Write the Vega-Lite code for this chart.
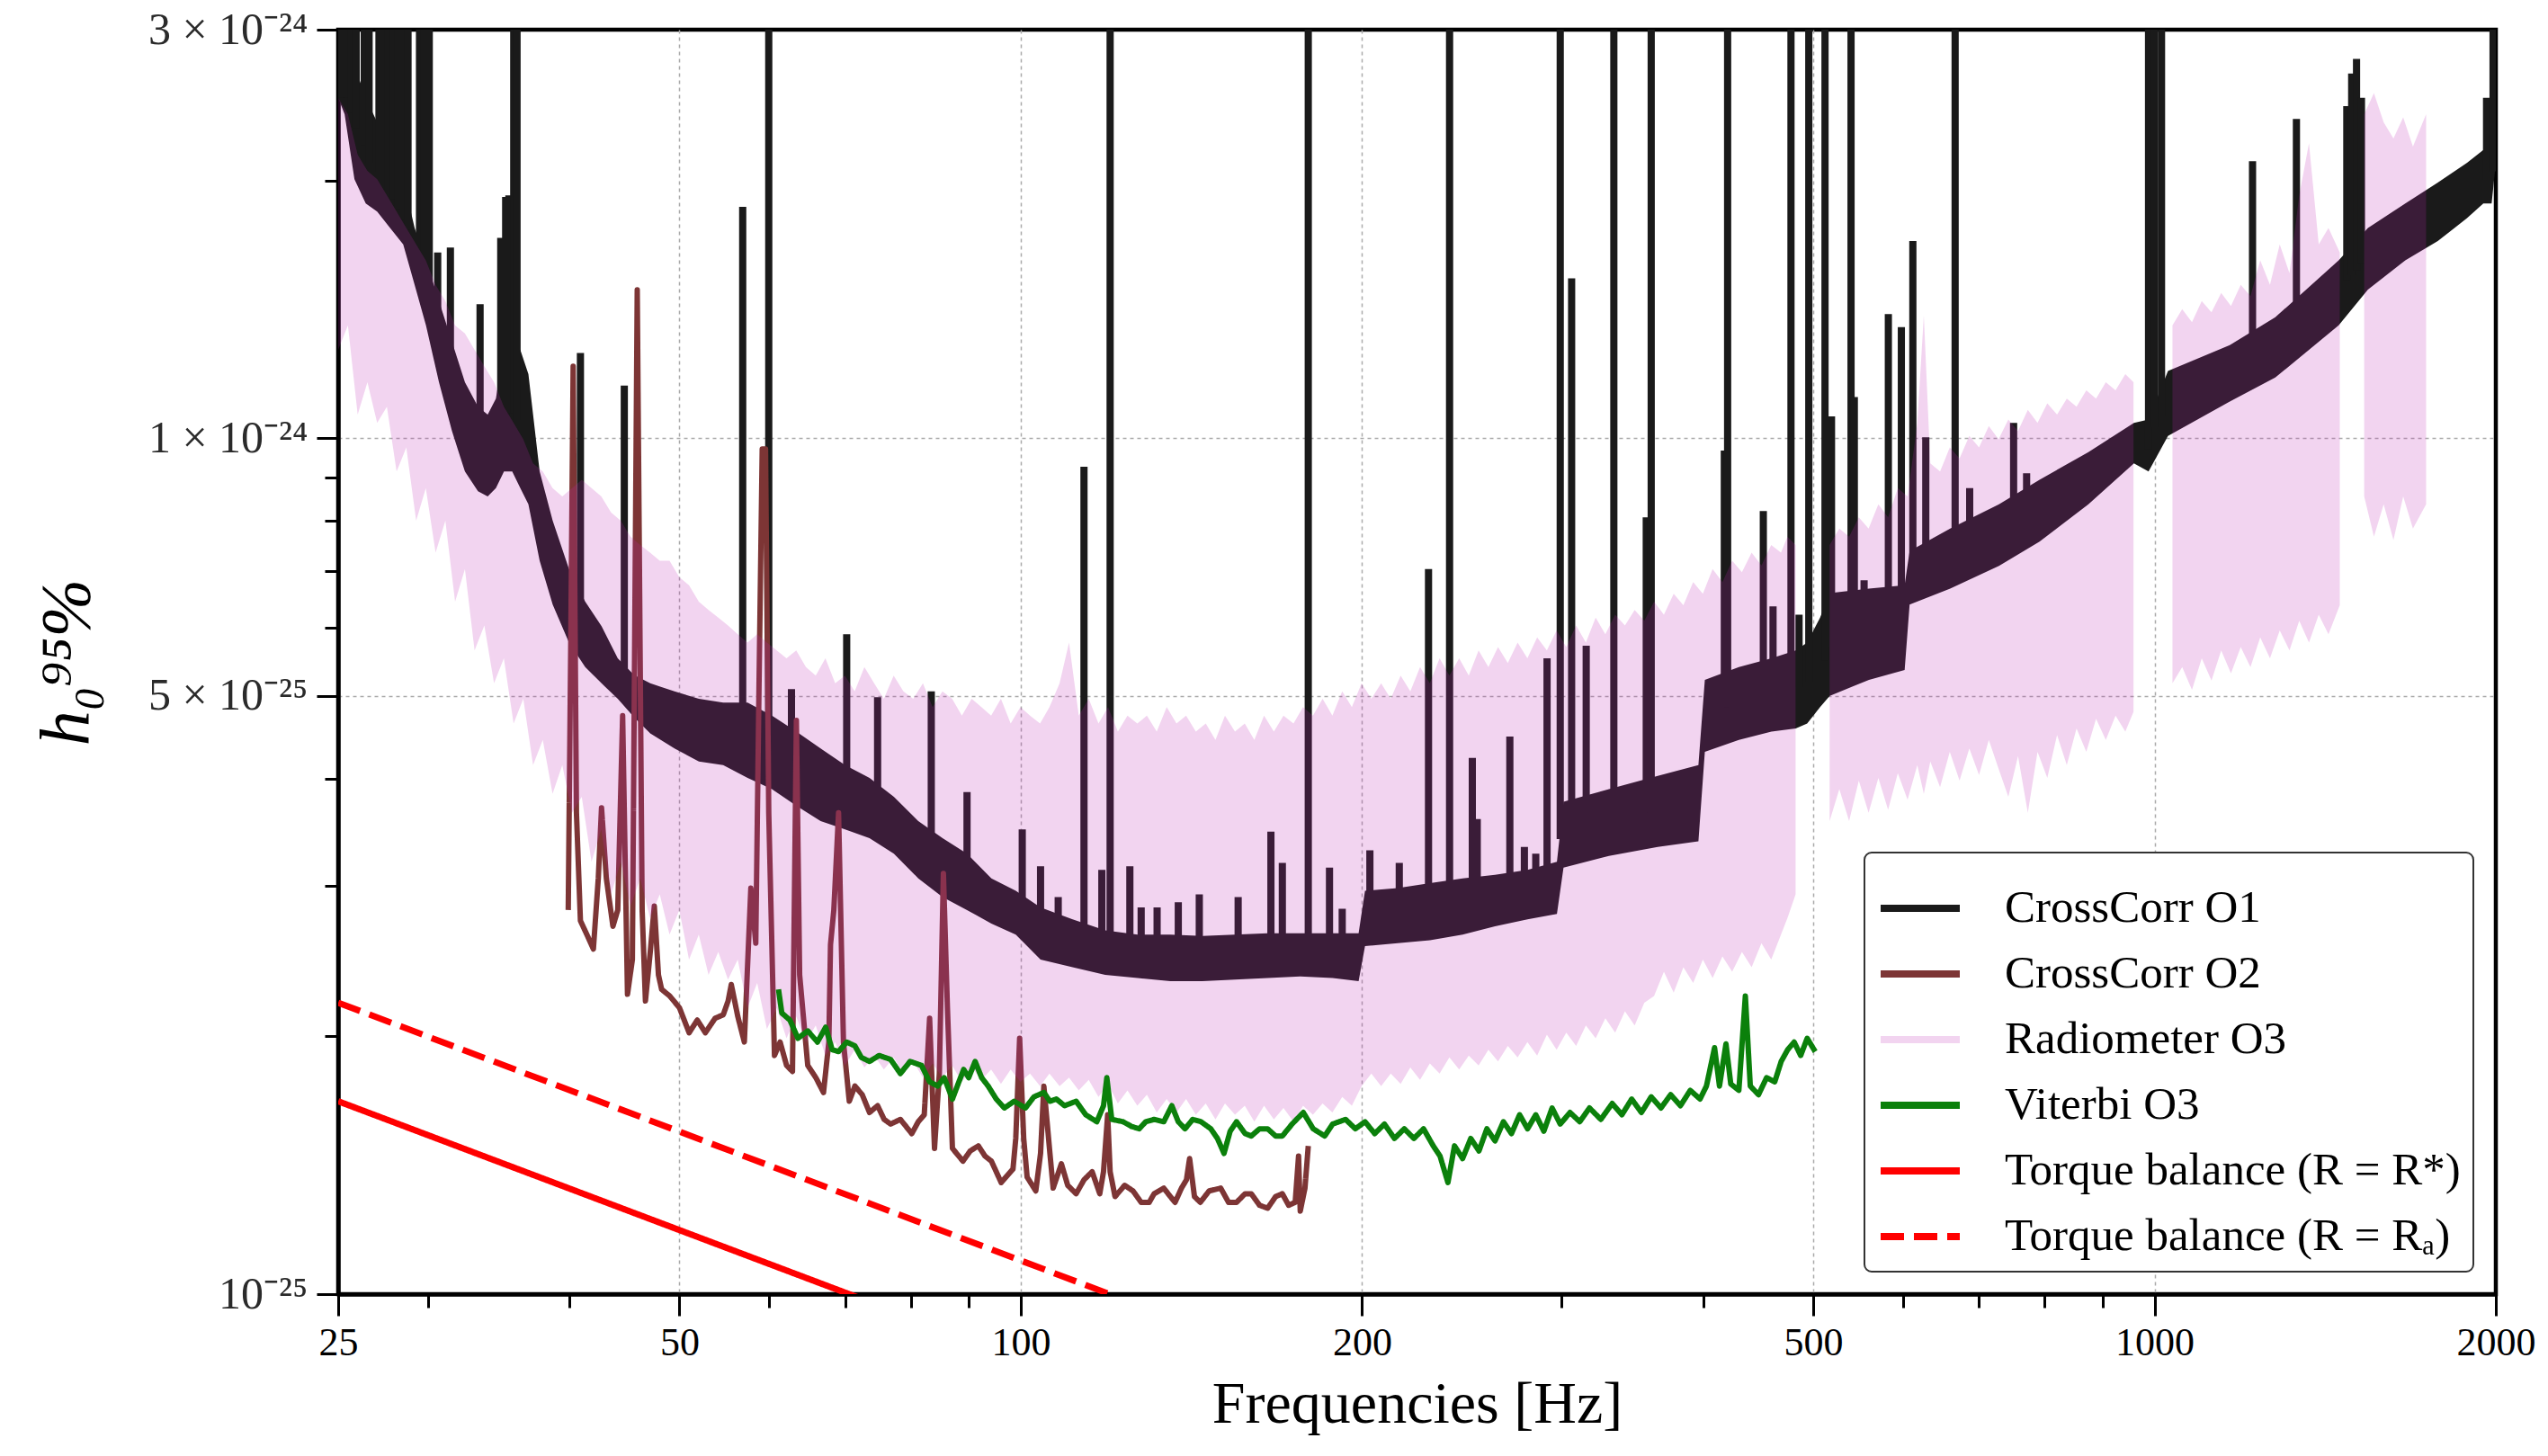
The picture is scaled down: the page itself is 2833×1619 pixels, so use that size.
{
"$schema": "https://vega.github.io/schema/vega-lite/v6.json",
"width": 2399, "height": 1406,
"autosize": {"type": "none"},
"padding": {"left": 376, "top": 33, "right": 58, "bottom": 180},
"background": "white",
"config": {
  "view": {"stroke": "black", "strokeWidth": 4.5},
  "font": "Liberation Serif",
  "legend": {"offset": 25, "padding": 14, "strokeColor": "#333333", "strokeWidth": 2, "cornerRadius": 8, "fillColor": "white",
    "labelFont": "Liberation Serif", "labelFontSize": 51, "labelColor": "black", "symbolSize": 7744, "symbolStrokeWidth": 8,
    "labelOffset": 46, "rowPadding": 0, "labelLimit": 1000}
},
"datasets": {
"o1band": [
{"series":"CrossCorr O1","f":25,"h":2.497e-24,"h2":3e-24},
{"series":"CrossCorr O1","f":25.33,"h":2.39e-24,"h2":2.91e-24},
{"series":"CrossCorr O1","f":25.84,"h":2.006e-24,"h2":2.725e-24},
{"series":"CrossCorr O1","f":26.44,"h":1.88e-24,"h2":2.497e-24},
{"series":"CrossCorr O1","f":27.06,"h":1.839e-24,"h2":2.338e-24},
{"series":"CrossCorr O1","f":27.78,"h":1.76e-24,"h2":2.19e-24},
{"series":"CrossCorr O1","f":28.53,"h":1.684e-24,"h2":2.006e-24},
{"series":"CrossCorr O1","f":29.2,"h":1.51e-24,"h2":1.76e-24},
{"series":"CrossCorr O1","f":29.88,"h":1.354e-24,"h2":1.613e-24},
{"series":"CrossCorr O1","f":30.68,"h":1.162e-24,"h2":1.446e-24},
{"series":"CrossCorr O1","f":31.5,"h":1.019e-24,"h2":1.296e-24},
{"series":"CrossCorr O1","f":32.34,"h":9.14e-25,"h2":1.162e-24},
{"series":"CrossCorr O1","f":33.21,"h":8.67e-25,"h2":1.088e-24},
{"series":"CrossCorr O1","f":33.87,"h":8.55e-25,"h2":1.065e-24},
{"series":"CrossCorr O1","f":34.44,"h":8.74e-25,"h2":1.112e-24},
{"series":"CrossCorr O1","f":35.01,"h":9.14e-25,"h2":1.268e-24},
{"series":"CrossCorr O1","f":35.6,"h":9.14e-25,"h2":1.296e-24},
{"series":"CrossCorr O1","f":36.19,"h":8.74e-25,"h2":1.268e-24},
{"series":"CrossCorr O1","f":36.79,"h":8.37e-25,"h2":1.188e-24},
{"series":"CrossCorr O1","f":37.64,"h":7.19e-25,"h2":9.14e-25},
{"series":"CrossCorr O1","f":38.65,"h":6.39e-25,"h2":8.01e-25},
{"series":"CrossCorr O1","f":39.95,"h":5.77e-25,"h2":7.03e-25},
{"series":"CrossCorr O1","f":41.29,"h":5.4e-25,"h2":6.44e-25},
{"series":"CrossCorr O1","f":42.68,"h":5.17e-25,"h2":6.03e-25},
{"series":"CrossCorr O1","f":44.11,"h":4.96e-25,"h2":5.53e-25},
{"series":"CrossCorr O1","f":45.59,"h":4.72e-25,"h2":5.29e-25},
{"series":"CrossCorr O1","f":47.12,"h":4.52e-25,"h2":5.17e-25},
{"series":"CrossCorr O1","f":49.5,"h":4.34e-25,"h2":5.06e-25},
{"series":"CrossCorr O1","f":52.01,"h":4.19e-25,"h2":4.96e-25},
{"series":"CrossCorr O1","f":54.64,"h":4.15e-25,"h2":4.91e-25},
{"series":"CrossCorr O1","f":57.42,"h":4.01e-25,"h2":4.91e-25},
{"series":"CrossCorr O1","f":60.33,"h":3.89e-25,"h2":4.74e-25},
{"series":"CrossCorr O1","f":63.4,"h":3.72e-25,"h2":4.54e-25},
{"series":"CrossCorr O1","f":66.6,"h":3.57e-25,"h2":4.34e-25},
{"series":"CrossCorr O1","f":69.99,"h":3.49e-25,"h2":4.15e-25},
{"series":"CrossCorr O1","f":73.55,"h":3.41e-25,"h2":4.01e-25},
{"series":"CrossCorr O1","f":77.28,"h":3.27e-25,"h2":3.81e-25},
{"series":"CrossCorr O1","f":81.21,"h":3.06e-25,"h2":3.57e-25},
{"series":"CrossCorr O1","f":85.32,"h":2.91e-25,"h2":3.41e-25},
{"series":"CrossCorr O1","f":89.66,"h":2.81e-25,"h2":3.27e-25},
{"series":"CrossCorr O1","f":94.21,"h":2.71e-25,"h2":3.06e-25},
{"series":"CrossCorr O1","f":98.99,"h":2.63e-25,"h2":2.96e-25},
{"series":"CrossCorr O1","f":104.1,"h":2.46e-25,"h2":2.83e-25},
{"series":"CrossCorr O1","f":111.1,"h":2.41e-25,"h2":2.74e-25},
{"series":"CrossCorr O1","f":118.7,"h":2.36e-25,"h2":2.66e-25},
{"series":"CrossCorr O1","f":126.8,"h":2.34e-25,"h2":2.63e-25},
{"series":"CrossCorr O1","f":135.5,"h":2.32e-25,"h2":2.63e-25},
{"series":"CrossCorr O1","f":144.6,"h":2.32e-25,"h2":2.62e-25},
{"series":"CrossCorr O1","f":154.5,"h":2.33e-25,"h2":2.63e-25},
{"series":"CrossCorr O1","f":165.1,"h":2.34e-25,"h2":2.64e-25},
{"series":"CrossCorr O1","f":176.4,"h":2.35e-25,"h2":2.64e-25},
{"series":"CrossCorr O1","f":188.4,"h":2.34e-25,"h2":2.64e-25},
{"series":"CrossCorr O1","f":198.6,"h":2.32e-25,"h2":2.64e-25},
{"series":"CrossCorr O1","f":201.2,"h":2.55e-25,"h2":2.96e-25},
{"series":"CrossCorr O1","f":215,"h":2.57e-25,"h2":2.98e-25},
{"series":"CrossCorr O1","f":229.6,"h":2.59e-25,"h2":3.02e-25},
{"series":"CrossCorr O1","f":245.3,"h":2.63e-25,"h2":3.06e-25},
{"series":"CrossCorr O1","f":262,"h":2.69e-25,"h2":3.09e-25},
{"series":"CrossCorr O1","f":279.9,"h":2.74e-25,"h2":3.13e-25},
{"series":"CrossCorr O1","f":297.1,"h":2.78e-25,"h2":3.2e-25},
{"series":"CrossCorr O1","f":301.1,"h":3.15e-25,"h2":3.76e-25},
{"series":"CrossCorr O1","f":330.2,"h":3.25e-25,"h2":3.89e-25},
{"series":"CrossCorr O1","f":364.6,"h":3.33e-25,"h2":4.03e-25},
{"series":"CrossCorr O1","f":396,"h":3.38e-25,"h2":4.15e-25},
{"series":"CrossCorr O1","f":401.2,"h":4.3e-25,"h2":5.22e-25},
{"series":"CrossCorr O1","f":429.9,"h":4.44e-25,"h2":5.4e-25},
{"series":"CrossCorr O1","f":459.3,"h":4.54e-25,"h2":5.53e-25},
{"series":"CrossCorr O1","f":482.6,"h":4.58e-25,"h2":5.65e-25},
{"series":"CrossCorr O1","f":493.9,"h":4.64e-25,"h2":5.77e-25},
{"series":"CrossCorr O1","f":507,"h":4.85e-25,"h2":6.17e-25},
{"series":"CrossCorr O1","f":517.2,"h":5.0e-25,"h2":6.59e-25},
{"series":"CrossCorr O1","f":559.9,"h":5.22e-25,"h2":6.67e-25},
{"series":"CrossCorr O1","f":602,"h":5.36e-25,"h2":6.73e-25},
{"series":"CrossCorr O1","f":608.1,"h":6.39e-25,"h2":7.38e-25},
{"series":"CrossCorr O1","f":660.3,"h":6.67e-25,"h2":7.84e-25},
{"series":"CrossCorr O1","f":729.1,"h":7.09e-25,"h2":8.37e-25},
{"series":"CrossCorr O1","f":791.7,"h":7.57e-25,"h2":8.94e-25},
{"series":"CrossCorr O1","f":874.3,"h":8.37e-25,"h2":9.63e-25},
{"series":"CrossCorr O1","f":959,"h":9.34e-25,"h2":1.042e-24},
{"series":"CrossCorr O1","f":987.9,"h":9.14e-25,"h2":1.051e-24},
{"series":"CrossCorr O1","f":1027.7,"h":1.006e-24,"h2":1.198e-24},
{"series":"CrossCorr O1","f":1165.1,"h":1.103e-24,"h2":1.284e-24},
{"series":"CrossCorr O1","f":1277.9,"h":1.177e-24,"h2":1.384e-24},
{"series":"CrossCorr O1","f":1453.5,"h":1.354e-24,"h2":1.613e-24},
{"series":"CrossCorr O1","f":1542.5,"h":1.491e-24,"h2":1.76e-24},
{"series":"CrossCorr O1","f":1664.1,"h":1.613e-24,"h2":1.88e-24},
{"series":"CrossCorr O1","f":1777.7,"h":1.699e-24,"h2":1.989e-24},
{"series":"CrossCorr O1","f":1886.5,"h":1.807e-24,"h2":2.097e-24},
{"series":"CrossCorr O1","f":1949.8,"h":1.88e-24,"h2":2.171e-24},
{"series":"CrossCorr O1","f":1983,"h":1.88e-24,"h2":2.27e-24},
{"series":"CrossCorr O1","f":2000,"h":2.097e-24,"h2":3e-24}
],
"o1spikes": [
{"series":"CrossCorr O1","f":25.17,"h":3e-24,"h2":2.5e-24},
{"series":"CrossCorr O1","f":25.42,"h":3e-24,"h2":2.5e-24},
{"series":"CrossCorr O1","f":25.67,"h":3e-24,"h2":2.4e-24},
{"series":"CrossCorr O1","f":25.93,"h":3e-24,"h2":2.3e-24},
{"series":"CrossCorr O1","f":26.36,"h":3e-24,"h2":2.2e-24},
{"series":"CrossCorr O1","f":26.62,"h":3e-24,"h2":2.1e-24},
{"series":"CrossCorr O1","f":27.16,"h":3e-24,"h2":2.05e-24},
{"series":"CrossCorr O1","f":27.42,"h":3e-24,"h2":2.0e-24},
{"series":"CrossCorr O1","f":27.69,"h":3e-24,"h2":1.95e-24},
{"series":"CrossCorr O1","f":27.97,"h":3e-24,"h2":1.9e-24},
{"series":"CrossCorr O1","f":28.25,"h":3e-24,"h2":1.85e-24},
{"series":"CrossCorr O1","f":28.53,"h":3e-24,"h2":1.8e-24},
{"series":"CrossCorr O1","f":28.81,"h":3e-24,"h2":1.75e-24},
{"series":"CrossCorr O1","f":29.49,"h":3e-24,"h2":1.6e-24},
{"series":"CrossCorr O1","f":29.78,"h":3e-24,"h2":1.55e-24},
{"series":"CrossCorr O1","f":30.08,"h":3e-24,"h2":1.5e-24},
{"series":"CrossCorr O1","f":30.6,"h":1.648e-24,"h2":1.3e-24},
{"series":"CrossCorr O1","f":31.4,"h":1.67e-24,"h2":1.15e-24},
{"series":"CrossCorr O1","f":33.35,"h":1.434e-24,"h2":9.6e-25},
{"series":"CrossCorr O1","f":34.78,"h":1.714e-24,"h2":1.0e-24},
{"series":"CrossCorr O1","f":35.13,"h":1.913e-24,"h2":1.05e-24},
{"series":"CrossCorr O1","f":35.36,"h":1.921e-24,"h2":1.07e-24},
{"series":"CrossCorr O1","f":35.71,"h":3e-24,"h2":1.07e-24},
{"series":"CrossCorr O1","f":35.95,"h":3e-24,"h2":1.05e-24},
{"series":"CrossCorr O1","f":40.89,"h":1.257e-24,"h2":6.2e-25},
{"series":"CrossCorr O1","f":44.7,"h":1.152e-24,"h2":5.3e-25},
{"series":"CrossCorr O1","f":56.85,"h":1.863e-24,"h2":4.5e-25},
{"series":"CrossCorr O1","f":59.94,"h":3e-24,"h2":4.4e-25},
{"series":"CrossCorr O1","f":62.77,"h":5.09e-25,"h2":4.1e-25},
{"series":"CrossCorr O1","f":70.22,"h":5.9e-25,"h2":3.8e-25},
{"series":"CrossCorr O1","f":74.77,"h":4.98e-25,"h2":3.5e-25},
{"series":"CrossCorr O1","f":83.38,"h":5.06e-25,"h2":3.2e-25},
{"series":"CrossCorr O1","f":89.66,"h":3.86e-25,"h2":3.0e-25},
{"series":"CrossCorr O1","f":100.3,"h":3.49e-25,"h2":2.8e-25},
{"series":"CrossCorr O1","f":104.1,"h":3.16e-25,"h2":2.65e-25},
{"series":"CrossCorr O1","f":107.9,"h":2.91e-25,"h2":2.6e-25},
{"series":"CrossCorr O1","f":113.7,"h":9.26e-25,"h2":2.55e-25},
{"series":"CrossCorr O1","f":117.9,"h":3.13e-25,"h2":2.5e-25},
{"series":"CrossCorr O1","f":119.9,"h":3e-24,"h2":2.5e-25},
{"series":"CrossCorr O1","f":124.8,"h":3.16e-25,"h2":2.5e-25},
{"series":"CrossCorr O1","f":127.7,"h":2.83e-25,"h2":2.48e-25},
{"series":"CrossCorr O1","f":131.9,"h":2.83e-25,"h2":2.48e-25},
{"series":"CrossCorr O1","f":137.7,"h":2.87e-25,"h2":2.47e-25},
{"series":"CrossCorr O1","f":143.7,"h":2.93e-25,"h2":2.47e-25},
{"series":"CrossCorr O1","f":155.5,"h":2.91e-25,"h2":2.48e-25},
{"series":"CrossCorr O1","f":166.2,"h":3.47e-25,"h2":2.49e-25},
{"series":"CrossCorr O1","f":170.1,"h":3.19e-25,"h2":2.49e-25},
{"series":"CrossCorr O1","f":179.3,"h":3e-24,"h2":2.49e-25},
{"series":"CrossCorr O1","f":187.2,"h":3.15e-25,"h2":2.49e-25},
{"series":"CrossCorr O1","f":192.1,"h":2.82e-25,"h2":2.48e-25},
{"series":"CrossCorr O1","f":203.2,"h":3.3e-25,"h2":2.75e-25},
{"series":"CrossCorr O1","f":215.7,"h":3.19e-25,"h2":2.78e-25},
{"series":"CrossCorr O1","f":228.9,"h":7.03e-25,"h2":2.8e-25},
{"series":"CrossCorr O1","f":238.9,"h":3e-24,"h2":2.82e-25},
{"series":"CrossCorr O1","f":250.2,"h":4.23e-25,"h2":2.84e-25},
{"series":"CrossCorr O1","f":252.7,"h":3.59e-25,"h2":2.84e-25},
{"series":"CrossCorr O1","f":270,"h":4.48e-25,"h2":2.87e-25},
{"series":"CrossCorr O1","f":278.1,"h":3.33e-25,"h2":2.9e-25},
{"series":"CrossCorr O1","f":284.6,"h":3.27e-25,"h2":2.92e-25},
{"series":"CrossCorr O1","f":291.2,"h":5.53e-25,"h2":2.95e-25},
{"series":"CrossCorr O1","f":299.1,"h":3e-24,"h2":3.4e-25},
{"series":"CrossCorr O1","f":306.1,"h":1.537e-24,"h2":3.45e-25},
{"series":"CrossCorr O1","f":315.3,"h":5.72e-25,"h2":3.5e-25},
{"series":"CrossCorr O1","f":333.5,"h":3e-24,"h2":3.55e-25},
{"series":"CrossCorr O1","f":356.2,"h":8.08e-25,"h2":3.65e-25},
{"series":"CrossCorr O1","f":359.8,"h":3e-24,"h2":3.65e-25},
{"series":"CrossCorr O1","f":417.4,"h":9.67e-25,"h2":4.85e-25},
{"series":"CrossCorr O1","f":420.2,"h":3e-24,"h2":4.85e-25},
{"series":"CrossCorr O1","f":451.8,"h":8.22e-25,"h2":4.95e-25},
{"series":"CrossCorr O1","f":460.8,"h":6.36e-25,"h2":4.97e-25},
{"series":"CrossCorr O1","f":477.9,"h":3e-24,"h2":5.1e-25},
{"series":"CrossCorr O1","f":485.8,"h":6.22e-25,"h2":5.12e-25},
{"series":"CrossCorr O1","f":495.5,"h":3e-24,"h2":5.2e-25},
{"series":"CrossCorr O1","f":512.1,"h":3e-24,"h2":5.5e-25},
{"series":"CrossCorr O1","f":518.9,"h":1.06e-24,"h2":5.7e-25},
{"series":"CrossCorr O1","f":539.9,"h":3e-24,"h2":5.75e-25},
{"series":"CrossCorr O1","f":543.5,"h":1.117e-24,"h2":5.77e-25},
{"series":"CrossCorr O1","f":554.4,"h":6.82e-25,"h2":5.8e-25},
{"series":"CrossCorr O1","f":582.4,"h":1.396e-24,"h2":5.95e-25},
{"series":"CrossCorr O1","f":598,"h":1.348e-24,"h2":6.0e-25},
{"series":"CrossCorr O1","f":612.1,"h":1.699e-24,"h2":6.8e-25},
{"series":"CrossCorr O1","f":628.4,"h":1.002e-24,"h2":7.0e-25},
{"series":"CrossCorr O1","f":667,"h":3e-24,"h2":7.1e-25},
{"series":"CrossCorr O1","f":687,"h":8.74e-25,"h2":7.3e-25},
{"series":"CrossCorr O1","f":751.1,"h":1.042e-24,"h2":7.9e-25},
{"series":"CrossCorr O1","f":771.2,"h":9.1e-25,"h2":8.0e-25},
{"series":"CrossCorr O1","f":987.9,"h":3e-24,"h2":9.7e-25},
{"series":"CrossCorr O1","f":1000,"h":3e-24,"h2":1.03e-24},
{"series":"CrossCorr O1","f":1014.3,"h":3e-24,"h2":1.06e-24},
{"series":"CrossCorr O1","f":1220.2,"h":2.106e-24,"h2":1.25e-24},
{"series":"CrossCorr O1","f":1334,"h":2.359e-24,"h2":1.34e-24},
{"series":"CrossCorr O1","f":1477.7,"h":2.443e-24,"h2":1.53e-24},
{"series":"CrossCorr O1","f":1492.4,"h":2.666e-24,"h2":1.55e-24},
{"series":"CrossCorr O1","f":1507.2,"h":2.773e-24,"h2":1.57e-24},
{"series":"CrossCorr O1","f":1522.3,"h":2.497e-24,"h2":1.6e-24},
{"series":"CrossCorr O1","f":1962.7,"h":2.497e-24,"h2":2.0e-24},
{"series":"CrossCorr O1","f":1988.8,"h":3e-24,"h2":2.05e-24}
],
"o2": [
{"series":"CrossCorr O2","f":39.89,"h":2.81e-25},{"series":"CrossCorr O2","f":40.09,"h":5.65e-25},{"series":"CrossCorr O2","f":40.29,"h":1.213e-24},
{"series":"CrossCorr O2","f":40.56,"h":3.65e-25},{"series":"CrossCorr O2","f":40.89,"h":2.73e-25},{"series":"CrossCorr O2","f":41.43,"h":2.63e-25},
{"series":"CrossCorr O2","f":41.98,"h":2.53e-25},{"series":"CrossCorr O2","f":42.4,"h":3.06e-25},{"series":"CrossCorr O2","f":42.68,"h":3.7e-25},
{"series":"CrossCorr O2","f":43.1,"h":3.06e-25},{"series":"CrossCorr O2","f":43.68,"h":2.69e-25},{"series":"CrossCorr O2","f":44.11,"h":2.81e-25},
{"series":"CrossCorr O2","f":44.55,"h":4.74e-25},{"series":"CrossCorr O2","f":44.99,"h":2.24e-25},{"series":"CrossCorr O2","f":45.44,"h":2.46e-25},
{"series":"CrossCorr O2","f":45.89,"h":1.49e-24},{"series":"CrossCorr O2","f":46.35,"h":2.81e-25},{"series":"CrossCorr O2","f":46.66,"h":2.2e-25},
{"series":"CrossCorr O2","f":47.12,"h":2.51e-25},{"series":"CrossCorr O2","f":47.51,"h":2.84e-25},{"series":"CrossCorr O2","f":47.91,"h":2.36e-25},
{"series":"CrossCorr O2","f":48.22,"h":2.27e-25},{"series":"CrossCorr O2","f":49.02,"h":2.23e-25},{"series":"CrossCorr O2","f":50,"h":2.16e-25},
{"series":"CrossCorr O2","f":50.99,"h":2.02e-25},{"series":"CrossCorr O2","f":51.84,"h":2.09e-25},{"series":"CrossCorr O2","f":52.7,"h":2.02e-25},
{"series":"CrossCorr O2","f":53.75,"h":2.1e-25},{"series":"CrossCorr O2","f":54.65,"h":2.12e-25},{"series":"CrossCorr O2","f":55.19,"h":2.2e-25},
{"series":"CrossCorr O2","f":55.55,"h":2.3e-25},{"series":"CrossCorr O2","f":56.29,"h":2.11e-25},{"series":"CrossCorr O2","f":57.04,"h":1.97e-25},
{"series":"CrossCorr O2","f":57.8,"h":2.98e-25},{"series":"CrossCorr O2","f":58.38,"h":2.57e-25},{"series":"CrossCorr O2","f":58.77,"h":5.17e-25},
{"series":"CrossCorr O2","f":59.15,"h":9.71e-25},{"series":"CrossCorr O2","f":59.55,"h":9.71e-25},{"series":"CrossCorr O2","f":59.94,"h":3.65e-25},
{"series":"CrossCorr O2","f":60.64,"h":1.9e-25},{"series":"CrossCorr O2","f":61.34,"h":1.97e-25},{"series":"CrossCorr O2","f":62.15,"h":1.85e-25},
{"series":"CrossCorr O2","f":62.9,"h":1.82e-25},{"series":"CrossCorr O2","f":63.4,"h":4.68e-25},{"series":"CrossCorr O2","f":63.82,"h":2.36e-25},
{"series":"CrossCorr O2","f":64.88,"h":1.85e-25},{"series":"CrossCorr O2","f":65.96,"h":1.79e-25},{"series":"CrossCorr O2","f":66.99,"h":1.72e-25},
{"series":"CrossCorr O2","f":67.72,"h":1.97e-25},{"series":"CrossCorr O2","f":67.95,"h":2.56e-25},{"series":"CrossCorr O2","f":68.41,"h":2.81e-25},
{"series":"CrossCorr O2","f":69.07,"h":3.65e-25},{"series":"CrossCorr O2","f":69.76,"h":1.97e-25},{"series":"CrossCorr O2","f":70.59,"h":1.68e-25},
{"series":"CrossCorr O2","f":71.4,"h":1.75e-25},{"series":"CrossCorr O2","f":72.47,"h":1.71e-25},{"series":"CrossCorr O2","f":73.55,"h":1.63e-25},
{"series":"CrossCorr O2","f":74.77,"h":1.66e-25},{"series":"CrossCorr O2","f":75.77,"h":1.6e-25},{"series":"CrossCorr O2","f":76.77,"h":1.58e-25},
{"series":"CrossCorr O2","f":78.31,"h":1.6e-25},{"series":"CrossCorr O2","f":80.14,"h":1.54e-25},{"series":"CrossCorr O2","f":81.21,"h":1.59e-25},
{"series":"CrossCorr O2","f":82.2,"h":1.62e-25},{"series":"CrossCorr O2","f":83.1,"h":2.1e-25},{"series":"CrossCorr O2","f":83.93,"h":1.48e-25},
{"series":"CrossCorr O2","f":84.76,"h":1.81e-25},{"series":"CrossCorr O2","f":85.46,"h":3.1e-25},{"series":"CrossCorr O2","f":86.16,"h":2.16e-25},
{"series":"CrossCorr O2","f":87.04,"h":1.48e-25},{"series":"CrossCorr O2","f":88.92,"h":1.43e-25},{"series":"CrossCorr O2","f":90.25,"h":1.47e-25},
{"series":"CrossCorr O2","f":91.75,"h":1.49e-25},{"series":"CrossCorr O2","f":92.98,"h":1.45e-25},{"series":"CrossCorr O2","f":94.21,"h":1.43e-25},
{"series":"CrossCorr O2","f":95.14,"h":1.39e-25},{"series":"CrossCorr O2","f":96.1,"h":1.35e-25},{"series":"CrossCorr O2","f":98.43,"h":1.4e-25},
{"series":"CrossCorr O2","f":98.99,"h":1.52e-25},{"series":"CrossCorr O2","f":99.77,"h":1.99e-25},{"series":"CrossCorr O2","f":100.6,"h":1.52e-25},
{"series":"CrossCorr O2","f":101.3,"h":1.37e-25},{"series":"CrossCorr O2","f":103.1,"h":1.32e-25},{"series":"CrossCorr O2","f":104.1,"h":1.46e-25},
{"series":"CrossCorr O2","f":104.8,"h":1.75e-25},{"series":"CrossCorr O2","f":106.1,"h":1.46e-25},{"series":"CrossCorr O2","f":106.8,"h":1.33e-25},
{"series":"CrossCorr O2","f":108.6,"h":1.42e-25},{"series":"CrossCorr O2","f":110,"h":1.34e-25},{"series":"CrossCorr O2","f":111.9,"h":1.31e-25},
{"series":"CrossCorr O2","f":113.7,"h":1.36e-25},{"series":"CrossCorr O2","f":115.6,"h":1.39e-25},{"series":"CrossCorr O2","f":117.4,"h":1.31e-25},
{"series":"CrossCorr O2","f":118.3,"h":1.39e-25},{"series":"CrossCorr O2","f":119.3,"h":1.62e-25},{"series":"CrossCorr O2","f":119.9,"h":1.39e-25},
{"series":"CrossCorr O2","f":121.1,"h":1.3e-25},{"series":"CrossCorr O2","f":123.5,"h":1.34e-25},{"series":"CrossCorr O2","f":125.6,"h":1.32e-25},
{"series":"CrossCorr O2","f":127.7,"h":1.28e-25},{"series":"CrossCorr O2","f":129.8,"h":1.28e-25},{"series":"CrossCorr O2","f":131.1,"h":1.31e-25},
{"series":"CrossCorr O2","f":133.7,"h":1.33e-25},{"series":"CrossCorr O2","f":135.5,"h":1.3e-25},{"series":"CrossCorr O2","f":136.8,"h":1.28e-25},
{"series":"CrossCorr O2","f":138.6,"h":1.33e-25},{"series":"CrossCorr O2","f":140,"h":1.36e-25},{"series":"CrossCorr O2","f":140.9,"h":1.44e-25},
{"series":"CrossCorr O2","f":142.3,"h":1.3e-25},{"series":"CrossCorr O2","f":144,"h":1.28e-25},{"series":"CrossCorr O2","f":146.6,"h":1.32e-25},
{"series":"CrossCorr O2","f":150.1,"h":1.33e-25},{"series":"CrossCorr O2","f":152.5,"h":1.28e-25},{"series":"CrossCorr O2","f":155,"h":1.28e-25},
{"series":"CrossCorr O2","f":157.7,"h":1.31e-25},{"series":"CrossCorr O2","f":159.7,"h":1.31e-25},{"series":"CrossCorr O2","f":162.4,"h":1.27e-25},
{"series":"CrossCorr O2","f":165.1,"h":1.26e-25},{"series":"CrossCorr O2","f":167.8,"h":1.3e-25},{"series":"CrossCorr O2","f":170.1,"h":1.31e-25},
{"series":"CrossCorr O2","f":172.3,"h":1.27e-25},{"series":"CrossCorr O2","f":174.6,"h":1.28e-25},{"series":"CrossCorr O2","f":175.8,"h":1.45e-25},
{"series":"CrossCorr O2","f":176.4,"h":1.25e-25},{"series":"CrossCorr O2","f":178.1,"h":1.33e-25},{"series":"CrossCorr O2","f":179.3,"h":1.49e-25}
],
"rad": [
{"series":"Radiometer O3","seg":1,"f":25,"h2":2.497e-24,"h":1.268e-24},
{"series":"Radiometer O3","seg":1,"f":25.5,"h2":2.39e-24,"h":1.354e-24},
{"series":"Radiometer O3","seg":1,"f":26.01,"h2":2.143e-24,"h":1.065e-24},
{"series":"Radiometer O3","seg":1,"f":26.53,"h2":2.052e-24,"h":1.162e-24},
{"series":"Radiometer O3","seg":1,"f":27.06,"h2":2.006e-24,"h":1.042e-24},
{"series":"Radiometer O3","seg":1,"f":27.6,"h2":1.921e-24,"h":1.088e-24},
{"series":"Radiometer O3","seg":1,"f":28.15,"h2":1.839e-24,"h":9.14e-25},
{"series":"Radiometer O3","seg":1,"f":28.71,"h2":1.76e-24,"h":9.75e-25},
{"series":"Radiometer O3","seg":1,"f":29.29,"h2":1.684e-24,"h":8.01e-25},
{"series":"Radiometer O3","seg":1,"f":29.87,"h2":1.613e-24,"h":8.74e-25},
{"series":"Radiometer O3","seg":1,"f":30.47,"h2":1.51e-24,"h":7.35e-25},
{"series":"Radiometer O3","seg":1,"f":31.08,"h2":1.446e-24,"h":8.01e-25},
{"series":"Radiometer O3","seg":1,"f":31.7,"h2":1.354e-24,"h":6.44e-25},
{"series":"Radiometer O3","seg":1,"f":32.34,"h2":1.325e-24,"h":7.03e-25},
{"series":"Radiometer O3","seg":1,"f":32.98,"h2":1.268e-24,"h":5.65e-25},
{"series":"Radiometer O3","seg":1,"f":33.64,"h2":1.213e-24,"h":6.04e-25},
{"series":"Radiometer O3","seg":1,"f":34.31,"h2":1.162e-24,"h":5.17e-25},
{"series":"Radiometer O3","seg":1,"f":35,"h2":1.088e-24,"h":5.53e-25},
{"series":"Radiometer O3","seg":1,"f":35.7,"h2":1.042e-24,"h":4.64e-25},
{"series":"Radiometer O3","seg":1,"f":36.41,"h2":9.97e-25,"h":4.96e-25},
{"series":"Radiometer O3","seg":1,"f":37.14,"h2":9.34e-25,"h":4.15e-25},
{"series":"Radiometer O3","seg":1,"f":37.88,"h2":9.14e-25,"h":4.44e-25},
{"series":"Radiometer O3","seg":1,"f":38.64,"h2":8.74e-25,"h":3.84e-25},
{"series":"Radiometer O3","seg":1,"f":39.41,"h2":8.55e-25,"h":4.15e-25},
{"series":"Radiometer O3","seg":1,"f":40.2,"h2":8.74e-25,"h":3.65e-25},
{"series":"Radiometer O3","seg":1,"f":41,"h2":8.94e-25,"h":3.81e-25},
{"series":"Radiometer O3","seg":1,"f":41.82,"h2":8.74e-25,"h":3.2e-25},
{"series":"Radiometer O3","seg":1,"f":42.66,"h2":8.55e-25,"h":3.49e-25},
{"series":"Radiometer O3","seg":1,"f":43.51,"h2":8.19e-25,"h":2.93e-25},
{"series":"Radiometer O3","seg":1,"f":44.38,"h2":8.01e-25,"h":3.2e-25},
{"series":"Radiometer O3","seg":1,"f":45.27,"h2":7.67e-25,"h":2.84e-25},
{"series":"Radiometer O3","seg":1,"f":46.17,"h2":7.5e-25,"h":3.06e-25},
{"series":"Radiometer O3","seg":1,"f":47.1,"h2":7.35e-25,"h":2.75e-25},
{"series":"Radiometer O3","seg":1,"f":48.04,"h2":7.19e-25,"h":2.93e-25},
{"series":"Radiometer O3","seg":1,"f":49,"h2":7.19e-25,"h":2.63e-25},
{"series":"Radiometer O3","seg":1,"f":49.98,"h2":6.88e-25,"h":2.81e-25},
{"series":"Radiometer O3","seg":1,"f":50.98,"h2":6.73e-25,"h":2.46e-25},
{"series":"Radiometer O3","seg":1,"f":52,"h2":6.44e-25,"h":2.63e-25},
{"series":"Radiometer O3","seg":1,"f":53.04,"h2":6.3e-25,"h":2.36e-25},
{"series":"Radiometer O3","seg":1,"f":54.1,"h2":6.17e-25,"h":2.51e-25},
{"series":"Radiometer O3","seg":1,"f":55.18,"h2":6.04e-25,"h":2.33e-25},
{"series":"Radiometer O3","seg":1,"f":56.28,"h2":5.9e-25,"h":2.46e-25},
{"series":"Radiometer O3","seg":1,"f":57.41,"h2":5.77e-25,"h":2.16e-25},
{"series":"Radiometer O3","seg":1,"f":58.55,"h2":5.9e-25,"h":2.31e-25},
{"series":"Radiometer O3","seg":1,"f":59.72,"h2":5.77e-25,"h":2.04e-25},
{"series":"Radiometer O3","seg":1,"f":60.92,"h2":5.65e-25,"h":2.16e-25},
{"series":"Radiometer O3","seg":1,"f":62.14,"h2":5.53e-25,"h":1.99e-25},
{"series":"Radiometer O3","seg":1,"f":63.38,"h2":5.65e-25,"h":2.11e-25},
{"series":"Radiometer O3","seg":1,"f":64.64,"h2":5.4e-25,"h":1.97e-25},
{"series":"Radiometer O3","seg":1,"f":65.94,"h2":5.28e-25,"h":2.06e-25},
{"series":"Radiometer O3","seg":1,"f":67.25,"h2":5.53e-25,"h":1.9e-25},
{"series":"Radiometer O3","seg":1,"f":68.6,"h2":5.17e-25,"h":1.97e-25},
{"series":"Radiometer O3","seg":1,"f":69.97,"h2":5.28e-25,"h":1.85e-25},
{"series":"Radiometer O3","seg":1,"f":71.37,"h2":5.06e-25,"h":1.93e-25},
{"series":"Radiometer O3","seg":1,"f":72.79,"h2":5.4e-25,"h":1.84e-25},
{"series":"Radiometer O3","seg":1,"f":74.25,"h2":5.17e-25,"h":1.9e-25},
{"series":"Radiometer O3","seg":1,"f":75.73,"h2":4.96e-25,"h":1.83e-25},
{"series":"Radiometer O3","seg":1,"f":77.25,"h2":5.28e-25,"h":1.89e-25},
{"series":"Radiometer O3","seg":1,"f":78.79,"h2":5.06e-25,"h":1.81e-25},
{"series":"Radiometer O3","seg":1,"f":80.37,"h2":4.96e-25,"h":1.87e-25},
{"series":"Radiometer O3","seg":1,"f":81.98,"h2":5.17e-25,"h":1.79e-25},
{"series":"Radiometer O3","seg":1,"f":83.61,"h2":4.85e-25,"h":1.86e-25},
{"series":"Radiometer O3","seg":1,"f":85.29,"h2":5.06e-25,"h":1.79e-25},
{"series":"Radiometer O3","seg":1,"f":86.99,"h2":4.96e-25,"h":1.85e-25},
{"series":"Radiometer O3","seg":1,"f":88.73,"h2":4.74e-25,"h":1.77e-25},
{"series":"Radiometer O3","seg":1,"f":90.51,"h2":4.96e-25,"h":1.84e-25},
{"series":"Radiometer O3","seg":1,"f":92.32,"h2":4.85e-25,"h":1.78e-25},
{"series":"Radiometer O3","seg":1,"f":94.16,"h2":4.74e-25,"h":1.83e-25},
{"series":"Radiometer O3","seg":1,"f":96.05,"h2":4.96e-25,"h":1.76e-25},
{"series":"Radiometer O3","seg":1,"f":97.97,"h2":4.64e-25,"h":1.83e-25},
{"series":"Radiometer O3","seg":1,"f":99.93,"h2":4.85e-25,"h":1.77e-25},
{"series":"Radiometer O3","seg":1,"f":101.9,"h2":4.74e-25,"h":1.81e-25},
{"series":"Radiometer O3","seg":1,"f":104,"h2":4.64e-25,"h":1.75e-25},
{"series":"Radiometer O3","seg":1,"f":106,"h2":4.85e-25,"h":1.81e-25},
{"series":"Radiometer O3","seg":1,"f":108.2,"h2":5.17e-25,"h":1.75e-25},
{"series":"Radiometer O3","seg":1,"f":110.3,"h2":5.77e-25,"h":1.79e-25},
{"series":"Radiometer O3","seg":1,"f":112.5,"h2":4.74e-25,"h":1.73e-25},
{"series":"Radiometer O3","seg":1,"f":114.8,"h2":4.96e-25,"h":1.78e-25},
{"series":"Radiometer O3","seg":1,"f":117.1,"h2":4.64e-25,"h":1.7e-25},
{"series":"Radiometer O3","seg":1,"f":119.4,"h2":4.85e-25,"h":1.76e-25},
{"series":"Radiometer O3","seg":1,"f":121.8,"h2":4.54e-25,"h":1.67e-25},
{"series":"Radiometer O3","seg":1,"f":124.2,"h2":4.74e-25,"h":1.73e-25},
{"series":"Radiometer O3","seg":1,"f":126.7,"h2":4.64e-25,"h":1.66e-25},
{"series":"Radiometer O3","seg":1,"f":129.2,"h2":4.74e-25,"h":1.71e-25},
{"series":"Radiometer O3","seg":1,"f":131.8,"h2":4.54e-25,"h":1.63e-25},
{"series":"Radiometer O3","seg":1,"f":134.5,"h2":4.85e-25,"h":1.69e-25},
{"series":"Radiometer O3","seg":1,"f":137.2,"h2":4.64e-25,"h":1.63e-25},
{"series":"Radiometer O3","seg":1,"f":139.9,"h2":4.74e-25,"h":1.69e-25},
{"series":"Radiometer O3","seg":1,"f":142.7,"h2":4.54e-25,"h":1.62e-25},
{"series":"Radiometer O3","seg":1,"f":145.6,"h2":4.64e-25,"h":1.67e-25},
{"series":"Radiometer O3","seg":1,"f":148.5,"h2":4.44e-25,"h":1.6e-25},
{"series":"Radiometer O3","seg":1,"f":151.4,"h2":4.74e-25,"h":1.67e-25},
{"series":"Radiometer O3","seg":1,"f":154.5,"h2":4.54e-25,"h":1.62e-25},
{"series":"Radiometer O3","seg":1,"f":157.6,"h2":4.64e-25,"h":1.66e-25},
{"series":"Radiometer O3","seg":1,"f":160.7,"h2":4.44e-25,"h":1.59e-25},
{"series":"Radiometer O3","seg":1,"f":163.9,"h2":4.74e-25,"h":1.66e-25},
{"series":"Radiometer O3","seg":1,"f":167.2,"h2":4.54e-25,"h":1.6e-25},
{"series":"Radiometer O3","seg":1,"f":170.5,"h2":4.74e-25,"h":1.65e-25},
{"series":"Radiometer O3","seg":1,"f":174,"h2":4.64e-25,"h":1.59e-25},
{"series":"Radiometer O3","seg":1,"f":177.4,"h2":4.85e-25,"h":1.66e-25},
{"series":"Radiometer O3","seg":1,"f":181,"h2":4.74e-25,"h":1.62e-25},
{"series":"Radiometer O3","seg":1,"f":184.6,"h2":4.96e-25,"h":1.67e-25},
{"series":"Radiometer O3","seg":1,"f":188.3,"h2":4.74e-25,"h":1.63e-25},
{"series":"Radiometer O3","seg":1,"f":192.1,"h2":5.06e-25,"h":1.7e-25},
{"series":"Radiometer O3","seg":1,"f":195.9,"h2":4.85e-25,"h":1.66e-25},
{"series":"Radiometer O3","seg":1,"f":199.8,"h2":5.17e-25,"h":1.75e-25},
{"series":"Radiometer O3","seg":1,"f":203.8,"h2":4.96e-25,"h":1.81e-25},
{"series":"Radiometer O3","seg":1,"f":207.9,"h2":5.17e-25,"h":1.75e-25},
{"series":"Radiometer O3","seg":1,"f":212,"h2":4.96e-25,"h":1.81e-25},
{"series":"Radiometer O3","seg":1,"f":216.3,"h2":5.28e-25,"h":1.76e-25},
{"series":"Radiometer O3","seg":1,"f":220.6,"h2":5.06e-25,"h":1.84e-25},
{"series":"Radiometer O3","seg":1,"f":225,"h2":5.4e-25,"h":1.78e-25},
{"series":"Radiometer O3","seg":1,"f":229.5,"h2":5.17e-25,"h":1.86e-25},
{"series":"Radiometer O3","seg":1,"f":234.1,"h2":5.53e-25,"h":1.81e-25},
{"series":"Radiometer O3","seg":1,"f":238.8,"h2":5.28e-25,"h":1.89e-25},
{"series":"Radiometer O3","seg":1,"f":243.6,"h2":5.53e-25,"h":1.83e-25},
{"series":"Radiometer O3","seg":1,"f":248.4,"h2":5.28e-25,"h":1.9e-25},
{"series":"Radiometer O3","seg":1,"f":253.4,"h2":5.65e-25,"h":1.85e-25},
{"series":"Radiometer O3","seg":1,"f":258.5,"h2":5.4e-25,"h":1.93e-25},
{"series":"Radiometer O3","seg":1,"f":263.6,"h2":5.7e-25,"h":1.87e-25},
{"series":"Radiometer O3","seg":1,"f":268.9,"h2":5.46e-25,"h":1.95e-25},
{"series":"Radiometer O3","seg":1,"f":274.3,"h2":5.77e-25,"h":1.89e-25},
{"series":"Radiometer O3","seg":1,"f":279.8,"h2":5.53e-25,"h":1.97e-25},
{"series":"Radiometer O3","seg":1,"f":285.4,"h2":5.85e-25,"h":1.9e-25},
{"series":"Radiometer O3","seg":1,"f":291.1,"h2":5.65e-25,"h":2.01e-25},
{"series":"Radiometer O3","seg":1,"f":296.9,"h2":5.96e-25,"h":1.93e-25},
{"series":"Radiometer O3","seg":1,"f":302.8,"h2":5.7e-25,"h":2.02e-25},
{"series":"Radiometer O3","seg":1,"f":308.9,"h2":6.04e-25,"h":1.95e-25},
{"series":"Radiometer O3","seg":1,"f":315.1,"h2":5.77e-25,"h":2.06e-25},
{"series":"Radiometer O3","seg":1,"f":321.4,"h2":6.17e-25,"h":1.99e-25},
{"series":"Radiometer O3","seg":1,"f":327.8,"h2":5.9e-25,"h":2.1e-25},
{"series":"Radiometer O3","seg":1,"f":334.4,"h2":6.22e-25,"h":2.02e-25},
{"series":"Radiometer O3","seg":1,"f":341.1,"h2":6.04e-25,"h":2.14e-25},
{"series":"Radiometer O3","seg":1,"f":347.9,"h2":6.3e-25,"h":2.06e-25},
{"series":"Radiometer O3","seg":1,"f":354.8,"h2":6.12e-25,"h":2.19e-25},
{"series":"Radiometer O3","seg":1,"f":361.9,"h2":6.44e-25,"h":2.23e-25},
{"series":"Radiometer O3","seg":1,"f":369.2,"h2":6.22e-25,"h":2.38e-25},
{"series":"Radiometer O3","seg":1,"f":376.6,"h2":6.58e-25,"h":2.25e-25},
{"series":"Radiometer O3","seg":1,"f":384.1,"h2":6.38e-25,"h":2.41e-25},
{"series":"Radiometer O3","seg":1,"f":391.8,"h2":6.79e-25,"h":2.31e-25},
{"series":"Radiometer O3","seg":1,"f":399.6,"h2":6.58e-25,"h":2.46e-25},
{"series":"Radiometer O3","seg":1,"f":407.6,"h2":7.03e-25,"h":2.34e-25},
{"series":"Radiometer O3","seg":1,"f":415.8,"h2":6.79e-25,"h":2.48e-25},
{"series":"Radiometer O3","seg":1,"f":424.1,"h2":7.19e-25,"h":2.38e-25},
{"series":"Radiometer O3","seg":1,"f":432.6,"h2":6.97e-25,"h":2.51e-25},
{"series":"Radiometer O3","seg":1,"f":441.2,"h2":7.35e-25,"h":2.41e-25},
{"series":"Radiometer O3","seg":1,"f":450.1,"h2":7.1e-25,"h":2.57e-25},
{"series":"Radiometer O3","seg":1,"f":459.1,"h2":7.5e-25,"h":2.46e-25},
{"series":"Radiometer O3","seg":1,"f":468.3,"h2":7.35e-25,"h":2.63e-25},
{"series":"Radiometer O3","seg":1,"f":474.5,"h2":7.67e-25,"h":2.75e-25},
{"series":"Radiometer O3","seg":1,"f":482.4,"h2":7.5e-25,"h":2.93e-25},
{"series":"Radiometer O3","seg":2,"f":516.9,"h2":7.5e-25,"h":3.57e-25},
{"series":"Radiometer O3","seg":2,"f":527.2,"h2":7.84e-25,"h":3.89e-25},
{"series":"Radiometer O3","seg":2,"f":537.8,"h2":7.67e-25,"h":3.57e-25},
{"series":"Radiometer O3","seg":2,"f":548.5,"h2":8.08e-25,"h":3.98e-25},
{"series":"Radiometer O3","seg":2,"f":559.5,"h2":7.84e-25,"h":3.65e-25},
{"series":"Radiometer O3","seg":2,"f":570.7,"h2":8.37e-25,"h":4.01e-25},
{"series":"Radiometer O3","seg":2,"f":582.1,"h2":8.08e-25,"h":3.68e-25},
{"series":"Radiometer O3","seg":2,"f":593.7,"h2":8.74e-25,"h":4.06e-25},
{"series":"Radiometer O3","seg":2,"f":605.6,"h2":8.55e-25,"h":3.78e-25},
{"series":"Radiometer O3","seg":2,"f":617.7,"h2":1.042e-24,"h":4.15e-25},
{"series":"Radiometer O3","seg":2,"f":625.9,"h2":1.391e-24,"h":3.84e-25},
{"series":"Radiometer O3","seg":2,"f":634.2,"h2":9.34e-25,"h":4.19e-25},
{"series":"Radiometer O3","seg":2,"f":646.9,"h2":9.14e-25,"h":3.91e-25},
{"series":"Radiometer O3","seg":2,"f":659.8,"h2":9.75e-25,"h":4.3e-25},
{"series":"Radiometer O3","seg":2,"f":673,"h2":9.47e-25,"h":3.98e-25},
{"series":"Radiometer O3","seg":2,"f":686.5,"h2":1.006e-24,"h":4.34e-25},
{"series":"Radiometer O3","seg":2,"f":700.2,"h2":9.75e-25,"h":4.04e-25},
{"series":"Radiometer O3","seg":2,"f":714.2,"h2":1.033e-24,"h":4.44e-25},
{"series":"Radiometer O3","seg":2,"f":728.5,"h2":9.97e-25,"h":4.11e-25},
{"series":"Radiometer O3","seg":2,"f":743.1,"h2":1.051e-24,"h":3.81e-25},
{"series":"Radiometer O3","seg":2,"f":757.9,"h2":1.019e-24,"h":4.25e-25},
{"series":"Radiometer O3","seg":2,"f":773.1,"h2":1.079e-24,"h":3.65e-25},
{"series":"Radiometer O3","seg":2,"f":788.5,"h2":1.042e-24,"h":4.3e-25},
{"series":"Radiometer O3","seg":2,"f":804.3,"h2":1.098e-24,"h":4.01e-25},
{"series":"Radiometer O3","seg":2,"f":820.4,"h2":1.065e-24,"h":4.5e-25},
{"series":"Radiometer O3","seg":2,"f":836.8,"h2":1.112e-24,"h":4.15e-25},
{"series":"Radiometer O3","seg":2,"f":853.5,"h2":1.088e-24,"h":4.58e-25},
{"series":"Radiometer O3","seg":2,"f":870.6,"h2":1.137e-24,"h":4.3e-25},
{"series":"Radiometer O3","seg":2,"f":888,"h2":1.112e-24,"h":4.7e-25},
{"series":"Radiometer O3","seg":2,"f":905.8,"h2":1.162e-24,"h":4.44e-25},
{"series":"Radiometer O3","seg":2,"f":923.9,"h2":1.137e-24,"h":4.74e-25},
{"series":"Radiometer O3","seg":2,"f":942.4,"h2":1.188e-24,"h":4.54e-25},
{"series":"Radiometer O3","seg":2,"f":958.2,"h2":1.162e-24,"h":4.79e-25},
{"series":"Radiometer O3","seg":3,"f":1037.1,"h2":1.354e-24,"h":5.17e-25},
{"series":"Radiometer O3","seg":3,"f":1057.8,"h2":1.415e-24,"h":5.4e-25},
{"series":"Radiometer O3","seg":3,"f":1079,"h2":1.366e-24,"h":5.08e-25},
{"series":"Radiometer O3","seg":3,"f":1100.6,"h2":1.446e-24,"h":5.53e-25},
{"series":"Radiometer O3","seg":3,"f":1122.6,"h2":1.403e-24,"h":5.21e-25},
{"series":"Radiometer O3","seg":3,"f":1145,"h2":1.478e-24,"h":5.65e-25},
{"series":"Radiometer O3","seg":3,"f":1167.9,"h2":1.427e-24,"h":5.31e-25},
{"series":"Radiometer O3","seg":3,"f":1191.3,"h2":1.51e-24,"h":5.7e-25},
{"series":"Radiometer O3","seg":3,"f":1215.1,"h2":1.465e-24,"h":5.4e-25},
{"series":"Radiometer O3","seg":3,"f":1239.4,"h2":1.613e-24,"h":5.85e-25},
{"series":"Radiometer O3","seg":3,"f":1264.2,"h2":1.51e-24,"h":5.53e-25},
{"series":"Radiometer O3","seg":3,"f":1289.5,"h2":1.684e-24,"h":5.96e-25},
{"series":"Radiometer O3","seg":3,"f":1315.3,"h2":1.558e-24,"h":5.65e-25},
{"series":"Radiometer O3","seg":3,"f":1341.6,"h2":1.921e-24,"h":6.12e-25},
{"series":"Radiometer O3","seg":3,"f":1368.4,"h2":2.21e-24,"h":5.77e-25},
{"series":"Radiometer O3","seg":3,"f":1395.8,"h2":1.684e-24,"h":6.22e-25},
{"series":"Radiometer O3","seg":3,"f":1423.7,"h2":1.76e-24,"h":5.9e-25},
{"series":"Radiometer O3","seg":3,"f":1456.7,"h2":1.648e-24,"h":6.38e-25},
{"series":"Radiometer O3","seg":4,"f":1530.8,"h2":2.39e-24,"h":8.55e-25},
{"series":"Radiometer O3","seg":4,"f":1561.4,"h2":2.53e-24,"h":7.67e-25},
{"series":"Radiometer O3","seg":4,"f":1592.6,"h2":2.338e-24,"h":8.37e-25},
{"series":"Radiometer O3","seg":4,"f":1624.5,"h2":2.239e-24,"h":7.6e-25},
{"series":"Radiometer O3","seg":4,"f":1657,"h2":2.369e-24,"h":8.55e-25},
{"series":"Radiometer O3","seg":4,"f":1690.1,"h2":2.19e-24,"h":7.84e-25},
{"series":"Radiometer O3","seg":4,"f":1735.9,"h2":2.39e-24,"h":8.37e-25}
],
"vit": [
{"series":"Viterbi O3","f":61.14,"h":2.27e-25},{"series":"Viterbi O3","f":61.55,"h":2.13e-25},{"series":"Viterbi O3","f":62.57,"h":2.09e-25},
{"series":"Viterbi O3","f":63.6,"h":1.99e-25},{"series":"Viterbi O3","f":64.88,"h":2.03e-25},{"series":"Viterbi O3","f":66.17,"h":1.97e-25},
{"series":"Viterbi O3","f":67.28,"h":2.05e-25},{"series":"Viterbi O3","f":68.18,"h":1.93e-25},{"series":"Viterbi O3","f":69.07,"h":1.92e-25},
{"series":"Viterbi O3","f":70.22,"h":1.97e-25},{"series":"Viterbi O3","f":71.4,"h":1.95e-25},{"series":"Viterbi O3","f":72.34,"h":1.89e-25},
{"series":"Viterbi O3","f":73.55,"h":1.87e-25},{"series":"Viterbi O3","f":75.01,"h":1.9e-25},{"series":"Viterbi O3","f":76.77,"h":1.88e-25},
{"series":"Viterbi O3","f":78.31,"h":1.81e-25},{"series":"Viterbi O3","f":79.87,"h":1.87e-25},{"series":"Viterbi O3","f":81.74,"h":1.85e-25},
{"series":"Viterbi O3","f":83.1,"h":1.77e-25},{"series":"Viterbi O3","f":84.48,"h":1.75e-25},{"series":"Viterbi O3","f":85.6,"h":1.79e-25},
{"series":"Viterbi O3","f":87.04,"h":1.69e-25},{"series":"Viterbi O3","f":88.19,"h":1.77e-25},{"series":"Viterbi O3","f":89.06,"h":1.83e-25},
{"series":"Viterbi O3","f":89.96,"h":1.79e-25},{"series":"Viterbi O3","f":91.15,"h":1.87e-25},{"series":"Viterbi O3","f":92.36,"h":1.79e-25},
{"series":"Viterbi O3","f":93.59,"h":1.75e-25},{"series":"Viterbi O3","f":95.14,"h":1.69e-25},{"series":"Viterbi O3","f":96.73,"h":1.65e-25},
{"series":"Viterbi O3","f":98.66,"h":1.68e-25},{"series":"Viterbi O3","f":100.96,"h":1.65e-25},{"series":"Viterbi O3","f":102.7,"h":1.7e-25},
{"series":"Viterbi O3","f":104.8,"h":1.72e-25},{"series":"Viterbi O3","f":106.1,"h":1.68e-25},{"series":"Viterbi O3","f":107.5,"h":1.69e-25},
{"series":"Viterbi O3","f":109.3,"h":1.66e-25},{"series":"Viterbi O3","f":111.9,"h":1.68e-25},{"series":"Viterbi O3","f":114.1,"h":1.62e-25},
{"series":"Viterbi O3","f":116.7,"h":1.59e-25},{"series":"Viterbi O3","f":118.3,"h":1.66e-25},{"series":"Viterbi O3","f":119.1,"h":1.79e-25},
{"series":"Viterbi O3","f":120.3,"h":1.6e-25},{"series":"Viterbi O3","f":123.1,"h":1.59e-25},{"series":"Viterbi O3","f":125.2,"h":1.57e-25},
{"series":"Viterbi O3","f":127.2,"h":1.56e-25},{"series":"Viterbi O3","f":128.9,"h":1.59e-25},{"series":"Viterbi O3","f":131.1,"h":1.6e-25},
{"series":"Viterbi O3","f":133.7,"h":1.59e-25},{"series":"Viterbi O3","f":135.9,"h":1.66e-25},{"series":"Viterbi O3","f":137.7,"h":1.59e-25},
{"series":"Viterbi O3","f":139.6,"h":1.56e-25},{"series":"Viterbi O3","f":141.8,"h":1.6e-25},{"series":"Viterbi O3","f":144.2,"h":1.59e-25},
{"series":"Viterbi O3","f":147.1,"h":1.56e-25},{"series":"Viterbi O3","f":149.1,"h":1.52e-25},{"series":"Viterbi O3","f":151.1,"h":1.46e-25},
{"series":"Viterbi O3","f":153,"h":1.55e-25},{"series":"Viterbi O3","f":155,"h":1.59e-25},{"series":"Viterbi O3","f":157.7,"h":1.54e-25},
{"series":"Viterbi O3","f":159.7,"h":1.53e-25},{"series":"Viterbi O3","f":162.4,"h":1.56e-25},{"series":"Viterbi O3","f":165.1,"h":1.56e-25},
{"series":"Viterbi O3","f":167.8,"h":1.53e-25},{"series":"Viterbi O3","f":170.1,"h":1.53e-25},{"series":"Viterbi O3","f":173.5,"h":1.58e-25},
{"series":"Viterbi O3","f":177.5,"h":1.63e-25},{"series":"Viterbi O3","f":181.1,"h":1.56e-25},{"series":"Viterbi O3","f":185.4,"h":1.53e-25},
{"series":"Viterbi O3","f":188.4,"h":1.58e-25},{"series":"Viterbi O3","f":193.4,"h":1.6e-25},{"series":"Viterbi O3","f":197.3,"h":1.56e-25},
{"series":"Viterbi O3","f":201.2,"h":1.59e-25},{"series":"Viterbi O3","f":205.2,"h":1.54e-25},{"series":"Viterbi O3","f":209.3,"h":1.58e-25},
{"series":"Viterbi O3","f":213.6,"h":1.52e-25},{"series":"Viterbi O3","f":217.9,"h":1.56e-25},{"series":"Viterbi O3","f":222.2,"h":1.52e-25},
{"series":"Viterbi O3","f":226.6,"h":1.56e-25},{"series":"Viterbi O3","f":231.1,"h":1.49e-25},{"series":"Viterbi O3","f":234.3,"h":1.45e-25},
{"series":"Viterbi O3","f":238.1,"h":1.35e-25},{"series":"Viterbi O3","f":241.3,"h":1.49e-25},{"series":"Viterbi O3","f":245.3,"h":1.44e-25},
{"series":"Viterbi O3","f":249.4,"h":1.52e-25},{"series":"Viterbi O3","f":253.6,"h":1.47e-25},{"series":"Viterbi O3","f":257.7,"h":1.56e-25},
{"series":"Viterbi O3","f":262,"h":1.51e-25},{"series":"Viterbi O3","f":266.5,"h":1.59e-25},{"series":"Viterbi O3","f":270.9,"h":1.54e-25},
{"series":"Viterbi O3","f":275.4,"h":1.62e-25},{"series":"Viterbi O3","f":279.9,"h":1.56e-25},{"series":"Viterbi O3","f":284.6,"h":1.62e-25},
{"series":"Viterbi O3","f":289.3,"h":1.55e-25},{"series":"Viterbi O3","f":294.2,"h":1.65e-25},{"series":"Viterbi O3","f":299.1,"h":1.58e-25},
{"series":"Viterbi O3","f":305.1,"h":1.63e-25},{"series":"Viterbi O3","f":311.2,"h":1.59e-25},{"series":"Viterbi O3","f":317.4,"h":1.65e-25},
{"series":"Viterbi O3","f":324.8,"h":1.6e-25},{"series":"Viterbi O3","f":332.4,"h":1.67e-25},{"series":"Viterbi O3","f":339,"h":1.62e-25},
{"series":"Viterbi O3","f":345.8,"h":1.69e-25},{"series":"Viterbi O3","f":352.7,"h":1.63e-25},{"series":"Viterbi O3","f":359.8,"h":1.7e-25},
{"series":"Viterbi O3","f":367,"h":1.65e-25},{"series":"Viterbi O3","f":374.3,"h":1.71e-25},{"series":"Viterbi O3","f":381.8,"h":1.66e-25},
{"series":"Viterbi O3","f":389.5,"h":1.73e-25},{"series":"Viterbi O3","f":397.3,"h":1.69e-25},{"series":"Viterbi O3","f":402.5,"h":1.75e-25},
{"series":"Viterbi O3","f":409.2,"h":1.94e-25},{"series":"Viterbi O3","f":413.3,"h":1.75e-25},{"series":"Viterbi O3","f":418.8,"h":1.96e-25},
{"series":"Viterbi O3","f":422.9,"h":1.76e-25},{"series":"Viterbi O3","f":429.9,"h":1.73e-25},{"series":"Viterbi O3","f":435.6,"h":2.23e-25},
{"series":"Viterbi O3","f":440,"h":1.75e-25},{"series":"Viterbi O3","f":447.4,"h":1.71e-25},{"series":"Viterbi O3","f":454.8,"h":1.79e-25},
{"series":"Viterbi O3","f":462.4,"h":1.77e-25},{"series":"Viterbi O3","f":468.5,"h":1.87e-25},{"series":"Viterbi O3","f":474.7,"h":1.93e-25},
{"series":"Viterbi O3","f":481,"h":1.97e-25},{"series":"Viterbi O3","f":487.4,"h":1.9e-25},{"series":"Viterbi O3","f":493.9,"h":1.99e-25},
{"series":"Viterbi O3","f":502,"h":1.92e-25}
],
"torque": [
{"series":"Torque balance (R = R*)","f":25,"h":1.68e-25},
{"series":"Torque balance (R = R*)","f":72,"h":9.9e-26},
{"series":"Torque balance (R = Rₐ)","f":25,"h":2.19e-25},
{"series":"Torque balance (R = Rₐ)","f":121,"h":9.95e-26}
]
},
"encoding": {
  "x": {"field": "f", "type": "quantitative", "scale": {"type": "log", "domain": [25, 2000], "nice": false},
   "axis": {
    "values": [25,30,40,50,60,70,80,90,100,200,300,400,500,600,700,800,900,1000,2000],
    "labelExpr": "indexof([25,50,100,200,500,1000,2000], datum.value) >= 0 ? '' + datum.value : ''",
    "tickSize": {"condition": {"test": "indexof([25,50,100,200,500,1000,2000], datum.value) >= 0", "value": 24}, "value": 15},
    "grid": true, "gridColor": "#aaaaaa", "gridDash": [4, 4], "gridWidth": 1.5,
    "gridOpacity": {"condition": {"test": "indexof([50,100,200,500,1000], datum.value) >= 0", "value": 1}, "value": 0},
    "domainColor": "black", "domainWidth": 4.5, "tickColor": "black", "tickWidth": 3,
    "labelFont": "Liberation Serif", "labelFontSize": 44, "labelColor": "black", "labelPadding": 8,
    "labelFlush": false, "labelOverlap": false, "labelBound": false,
    "title": "Frequencies [Hz]", "titleFont": "Liberation Serif", "titleFontSize": 66, "titleFontWeight": "normal", "titleColor": "black", "titlePadding": 14
   }},
  "y": {"field": "h", "type": "quantitative", "scale": {"type": "log", "domain": [1e-25, 3e-24], "nice": false},
   "axis": {
    "values": [1e-25,2e-25,3e-25,4e-25,5e-25,6e-25,7e-25,8e-25,9e-25,1e-24,2e-24,3e-24],
    "labelExpr": "round(datum.value*pow(10,26)) == 10 ? '10⁻²⁵' : round(datum.value*pow(10,26)) == 50 ? '5 × 10⁻²⁵' : round(datum.value*pow(10,26)) == 100 ? '1 × 10⁻²⁴' : round(datum.value*pow(10,26)) == 300 ? '3 × 10⁻²⁴' : ''",
    "tickSize": {"condition": {"test": "indexof([10,50,100,300], round(datum.value*pow(10,26))) >= 0", "value": 24}, "value": 15},
    "grid": true, "gridColor": "#aaaaaa", "gridDash": [4, 4], "gridWidth": 1.5,
    "gridOpacity": {"condition": {"test": "indexof([50,100], round(datum.value*pow(10,26))) >= 0", "value": 1}, "value": 0},
    "domainColor": "black", "domainWidth": 4.5, "tickColor": "black", "tickWidth": 3,
    "labelFont": "Liberation Serif", "labelFontSize": 50, "labelColor": "#2a2a2a", "labelPadding": 10,
    "labelFlush": false, "labelOverlap": false, "labelBound": false,
    "title": "h₀⁹⁵%", "titleFont": "Liberation Serif", "titleFontSize": 78, "titleFontStyle": "italic", "titleFontWeight": "normal", "titleColor": "black", "titlePadding": 62
   }},
  "color": {"field": "series", "type": "nominal",
   "scale": {"domain": ["CrossCorr O1","CrossCorr O2","Radiometer O3","Viterbi O3","Torque balance (R = R*)","Torque balance (R = Rₐ)"],
             "range": ["#1a1a1a","#7d3535","rgba(190,40,180,0.2)","#0b800b","#ff0000","#ff0000"]},
   "legend": {"title": null, "symbolType": "stroke", "orient": "bottom-right"}},
  "strokeDash": {"field": "series", "type": "nominal",
   "scale": {"domain": ["CrossCorr O1","CrossCorr O2","Radiometer O3","Viterbi O3","Torque balance (R = R*)","Torque balance (R = Rₐ)"],
             "range": [[1,0],[1,0],[1,0],[1,0],[1,0],[26,11]]},
   "legend": {"title": null, "symbolType": "stroke", "orient": "bottom-right"}}
},
"layer": [
{"data": {"name": "o1band"}, "mark": {"type": "area", "clip": true}, "encoding": {"y2": {"field": "h2"}}},
{"data": {"name": "o1spikes"}, "mark": {"type": "rule", "clip": true, "strokeWidth": 8}, "encoding": {"y2": {"field": "h2"}}},
{"data": {"name": "o2"}, "mark": {"type": "line", "clip": true, "strokeWidth": 6, "strokeJoin": "round"}, "encoding": {}},
{"data": {"name": "rad"}, "mark": {"type": "area", "clip": true}, "encoding": {"y2": {"field": "h2"}, "detail": {"field": "seg", "type": "nominal"}}},
{"data": {"name": "vit"}, "mark": {"type": "line", "clip": true, "strokeWidth": 6, "strokeJoin": "round"}, "encoding": {}},
{"data": {"name": "torque"}, "mark": {"type": "line", "clip": true, "strokeWidth": 7}, "encoding": {}}
]
}
